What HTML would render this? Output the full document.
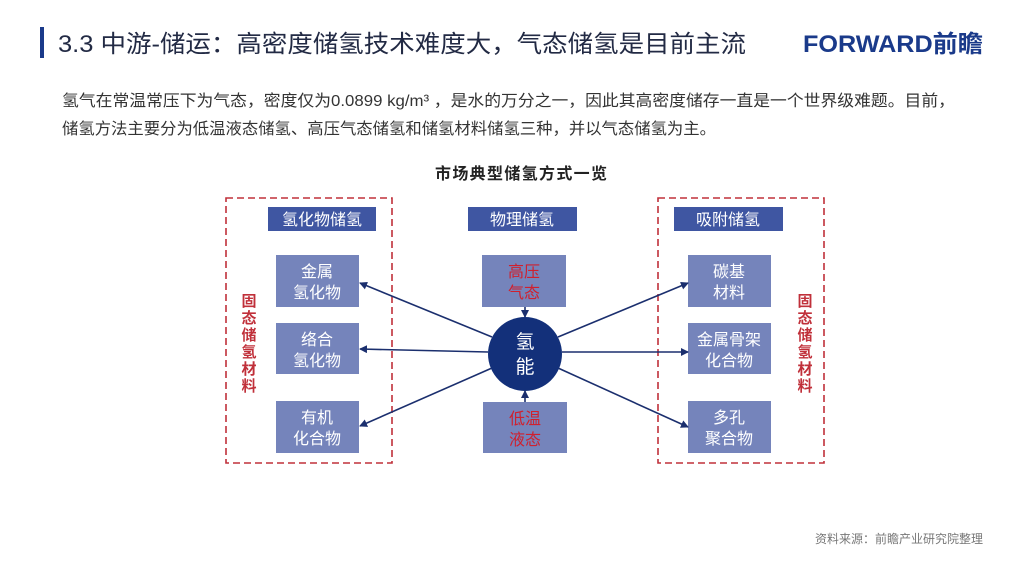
<!DOCTYPE html>
<html><head><meta charset="utf-8"><style>
html,body{margin:0;padding:0;background:#fff;}
body{width:1024px;height:564px;overflow:hidden;position:relative;font-family:"Liberation Sans","Noto Sans CJK SC",sans-serif;}
</style></head><body>
<svg width="1024" height="564" viewBox="0 0 1024 564" xmlns="http://www.w3.org/2000/svg" style="position:absolute;left:0;top:0">
<defs>
<marker id="a" markerWidth="8" markerHeight="8" refX="7" refY="4" orient="auto" markerUnits="userSpaceOnUse"><path d="M0,0 L8,4 L0,8 Z" fill="#1b2f6e"/></marker>
</defs>
<g font-family="'Liberation Sans','Noto Sans CJK SC',sans-serif">
<rect x="40" y="27" width="4" height="31" fill="#1a3a8a"/>
<text x="58" y="52" font-size="24" fill="#222a44" textLength="688" lengthAdjust="spacingAndGlyphs">3.3 中游-储运：高密度储氢技术难度大，气态储氢是目前主流</text>
<text x="803" y="52" font-size="24" font-weight="bold" fill="#1a3a8a" textLength="180" lengthAdjust="spacingAndGlyphs">FORWARD前瞻</text>
<text x="62" y="106" font-size="16" fill="#333" textLength="893" lengthAdjust="spacingAndGlyphs">氢气在常温常压下为气态，密度仅为0.0899 kg/m³ ，是水的万分之一，因此其高密度储存一直是一个世界级难题。目前，</text>
<text x="62" y="134" font-size="16" fill="#333" textLength="654" lengthAdjust="spacingAndGlyphs">储氢方法主要分为低温液态储氢、高压气态储氢和储氢材料储氢三种，并以气态储氢为主。</text>
<text x="521" y="179" font-size="16" font-weight="bold" fill="#222" text-anchor="middle" textLength="172">市场典型储氢方式一览</text>

<rect x="226" y="198" width="166" height="265" fill="none" stroke="#c0303a" stroke-width="1.6" stroke-dasharray="7,4"/>
<rect x="658" y="198" width="166" height="265" fill="none" stroke="#c0303a" stroke-width="1.6" stroke-dasharray="7,4"/>

<g fill="#3f56a2">
<rect x="268" y="207" width="108" height="24"/>
<rect x="468" y="207" width="109" height="24"/>
<rect x="674" y="207" width="109" height="24"/>
</g>
<g fill="#fff" font-size="16" text-anchor="middle">
<text x="322" y="225">氢化物储氢</text>
<text x="522" y="225">物理储氢</text>
<text x="728" y="225">吸附储氢</text>
</g>
<g fill="#7584bb">
<rect x="276" y="255" width="83" height="52"/>
<rect x="276" y="323" width="83" height="51"/>
<rect x="276" y="401" width="83" height="52"/>
<rect x="688" y="255" width="83" height="52"/>
<rect x="688" y="323" width="83" height="51"/>
<rect x="688" y="401" width="83" height="52"/>
<rect x="482" y="255" width="84" height="52"/>
<rect x="483" y="402" width="84" height="51"/>
</g>
<g fill="#fff" font-size="16" text-anchor="middle">
<text x="317" y="277">金属</text><text x="317" y="298">氢化物</text>
<text x="317" y="345">络合</text><text x="317" y="366">氢化物</text>
<text x="317" y="423">有机</text><text x="317" y="444">化合物</text>
<text x="729" y="277">碳基</text><text x="729" y="298">材料</text>
<text x="729" y="345">金属骨架</text><text x="729" y="366">化合物</text>
<text x="729" y="423">多孔</text><text x="729" y="444">聚合物</text>
</g>
<g fill="#d0202e" font-size="16" text-anchor="middle">
<text x="524" y="277">高压</text><text x="524" y="298">气态</text>
<text x="525" y="424">低温</text><text x="525" y="445">液态</text>
</g>
<g fill="#c0303a" font-size="15" font-weight="bold" text-anchor="middle">
<text x="249" y="306">固</text><text x="249" y="323">态</text><text x="249" y="340">储</text><text x="249" y="357">氢</text><text x="249" y="374">材</text><text x="249" y="391">料</text>
<text x="805" y="306">固</text><text x="805" y="323">态</text><text x="805" y="340">储</text><text x="805" y="357">氢</text><text x="805" y="374">材</text><text x="805" y="391">料</text>
</g>
<g stroke="#1b2f6e" stroke-width="1.6" marker-end="url(#a)">
<line x1="492" y1="337" x2="360" y2="283"/>
<line x1="488" y1="352" x2="360" y2="349"/>
<line x1="492" y1="368" x2="360" y2="426"/>
<line x1="558" y1="337" x2="688" y2="283"/>
<line x1="562" y1="352" x2="688" y2="352"/>
<line x1="558" y1="368" x2="688" y2="427"/>
<line x1="525" y1="307" x2="525" y2="317"/>
<line x1="525" y1="402" x2="525" y2="391"/>
</g>
<circle cx="525" cy="354" r="37" fill="#13307a"/>
<text x="525" y="348" font-size="19" fill="#fff" text-anchor="middle">氢</text>
<text x="525" y="373" font-size="19" fill="#fff" text-anchor="middle">能</text>
<text x="983" y="543" font-size="12" fill="#777" text-anchor="end">资料来源：前瞻产业研究院整理</text>
</g>
</svg>
</body></html>
